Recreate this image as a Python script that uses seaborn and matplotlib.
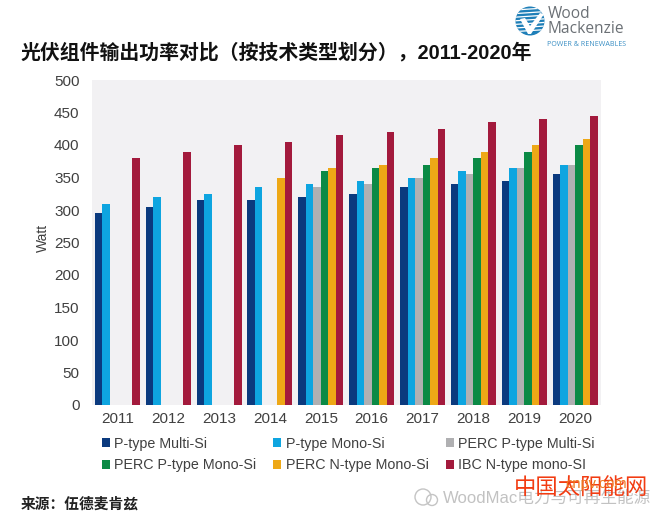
import numpy as np
import pandas as pd
import matplotlib
matplotlib.use('Agg')
import matplotlib.pyplot as plt
from matplotlib.patches import Circle, Polygon
import seaborn as sns

years = ['2011', '2012', '2013', '2014', '2015', '2016', '2017', '2018', '2019', '2020']
nan = np.nan
p_multi = [295, 305, 315, 315, 320, 325, 335, 340, 345, 355]
p_mono = [310, 320, 325, 335, 340, 345, 350, 360, 365, 370]
perc_p_multi = [nan, nan, nan, nan, 335, 340, 350, 355, 365, 370]
perc_p_mono = [nan, nan, nan, nan, 360, 365, 370, 380, 390, 400]
perc_n_mono = [nan, nan, nan, 350, 365, 370, 380, 390, 400, 410]
ibc_n_mono = [380, 390, 400, 405, 415, 420, 425, 435, 440, 445]

series_names = ['P-type Multi-Si', 'P-type Mono-Si', 'PERC P-type Multi-Si',
                'PERC P-type Mono-Si', 'PERC N-type Mono-Si', 'IBC N-type mono-SI']
colors = ['#0b3a7e', '#0ea5e0', '#b0b0b2', '#0b8a45', '#eea816', '#a31a3c']

title = '光伏组件输出功率对比（按技术类型划分），2011-2020年'
source = '来源：伍德麦肯兹'

df = pd.DataFrame({'year': years, series_names[0]: p_multi, series_names[1]: p_mono,
                   series_names[2]: perc_p_multi, series_names[3]: perc_p_mono,
                   series_names[4]: perc_n_mono, series_names[5]: ibc_n_mono})
long_df = df.melt(id_vars='year', var_name='type', value_name='watt')

sns.set_theme(style='white')
plt.rcParams['font.family'] = ['Liberation Sans', 'Noto Sans CJK SC', 'DejaVu Sans']

W, H = 667, 519
fig = plt.figure(figsize=(W / 100, H / 100), dpi=100, facecolor='white')
ax = fig.add_axes([92 / W, 1 - 405 / H, (600.5 - 92) / W, (405 - 80) / H])
ax.set_facecolor('#f2f1f3')

sns.barplot(data=long_df, x='year', y='watt', hue='type', hue_order=series_names,
            palette=colors, width=0.884, gap=0, saturation=1, linewidth=0, ax=ax)
ax.set_ylim(0, 500)
ax.set_xlim(-0.5, 9.5)
ax.set_yticks(range(0, 501, 50))
ax.set_xlabel('')
ax.set_ylabel('Watt', fontsize=10, color='#404040')
ax.yaxis.set_label_coords(-0.083, 0.515)
ax.tick_params(axis='both', length=0, labelsize=11, labelcolor='#404040')
ax.tick_params(axis='x', pad=5)
ax.tick_params(axis='y', pad=9)
sns.despine(ax=ax, left=True, bottom=True)

# legend fills by column, so reorder to read across the rows
handles, labels = ax.get_legend_handles_labels()
order = [0, 3, 1, 4, 2, 5]
ax.legend([handles[i] for i in order], [labels[i] for i in order], ncols=3,
          loc='upper left', bbox_to_anchor=(102 / W, 1 - 437 / H),
          bbox_transform=fig.transFigure, frameon=False, fontsize=10.3,
          labelcolor='#404040', handlelength=0.55, handleheight=0.6,
          handletextpad=0.3, columnspacing=1.2, labelspacing=0.5,
          borderpad=0, borderaxespad=0)

# overlay in pixel coords for title, logo and watermarks
over = fig.add_axes([0, 0, 1, 1], zorder=5)
over.set_xlim(0, W)
over.set_ylim(H, 0)
over.axis('off')

over.text(20.5, 52.5, title, fontsize=14.3, fontweight='bold', color='#111111', va='center')
over.text(20.5, 504, source, fontsize=10.6, fontweight='bold', color='#222222', va='center')

# logo
logo = Circle((530, 21), 14.5, color='#1f7fb8', lw=0)
over.add_patch(logo)
for y in np.arange(9, 34, 3.6):
    line, = over.plot([515, 545], [y + 1, y - 1], color='white', lw=0.9)
    line.set_clip_path(logo)
over.add_patch(Polygon([[520, 19], [525, 18], [530, 26], [540, 13], [544, 14], [531, 34], [528, 34]],
                       closed=True, color='white', lw=0))
over.text(547.5, 13.5, 'Wood', fontsize=11.2, color='#6b7075', family='Open Sans', va='center')
over.text(547.5, 29, 'Mackenzie', fontsize=11.2, color='#6b7075', family='Open Sans', va='center')
over.text(547, 45, 'POWER & RENEWABLES', fontsize=5.1, color='#3b8fc4', family='Open Sans', va='center')

# watermarks
over.add_patch(Circle((423, 497), 8, fill=False, ec='#c4c4c4', lw=1))
over.add_patch(Circle((432, 500), 5.5, fill=False, ec='#c4c4c4', lw=1))
over.text(443, 498, 'WoodMac电力与可再生能源', fontsize=12, color='#c2c2c2', va='center')
over.text(514, 489, '中国太阳能网', fontsize=16.1, color='#f23c12', va='center')
over.text(565, 484, 'cnpv.com', fontsize=10.5, color='#ee7a20', va='center')

fig.savefig('out.png', dpi=100)
